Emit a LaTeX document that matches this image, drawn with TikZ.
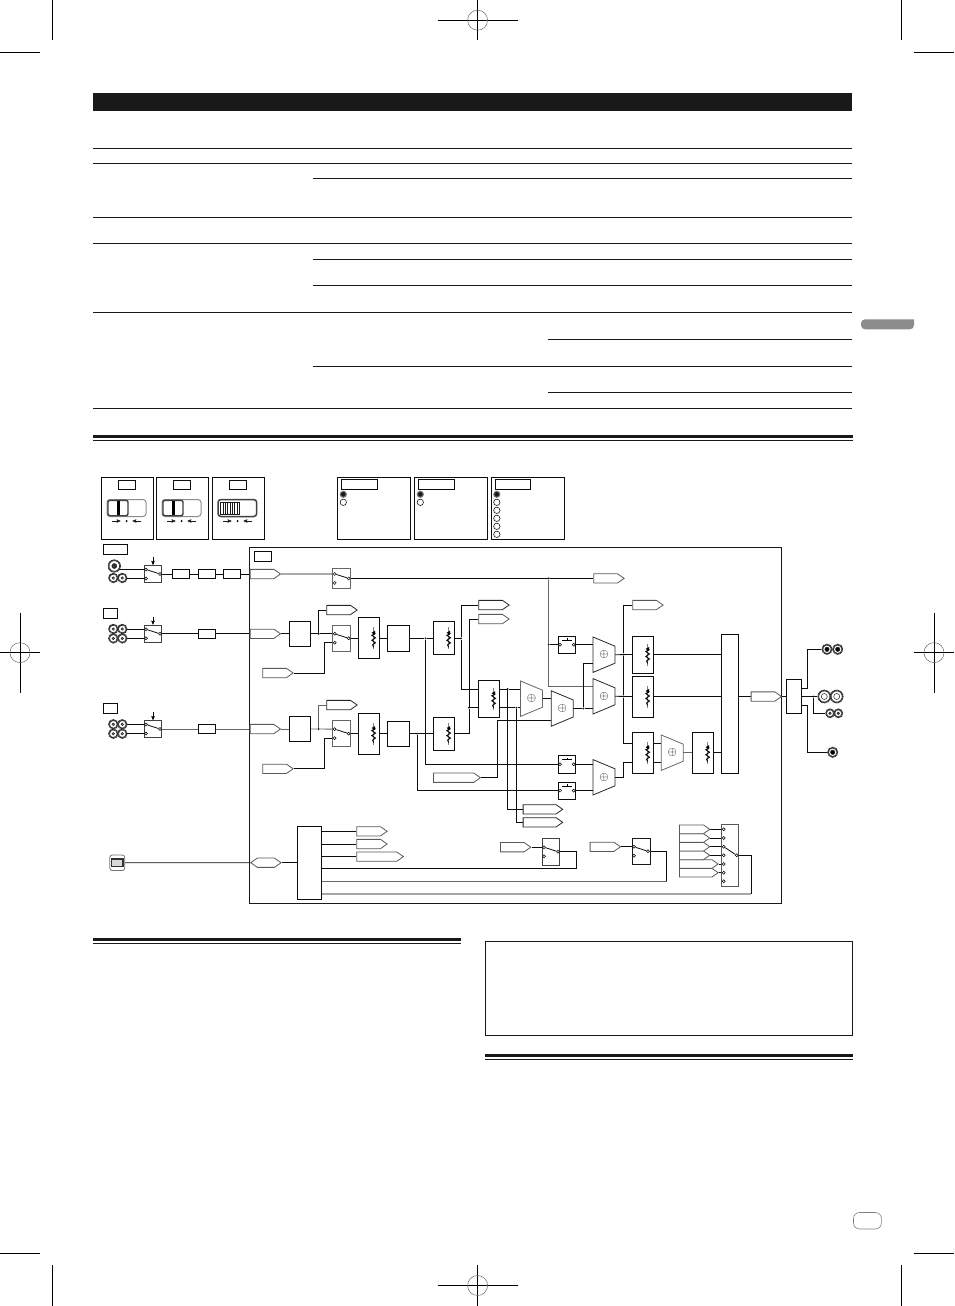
\documentclass[tikz,border=0pt]{standalone}
\usepackage{xcolor}
\usepackage{tikz}
\usetikzlibrary{positioning}
\usetikzlibrary{calc,arrows,backgrounds,shapes.symbols}
\tikzset{
  wire_k/.style = {draw=black!95, line width=.8pt},
  wire_g/.style = {draw=black!60, line width=.9pt},
  rule_t/.style = {draw=black!90, line width=.9pt},
  crop_t/.style = {draw=black, line width=.6pt},
  blk_n/.style = {draw=black!95, fill=white, line width=.8pt, inner sep=0pt},
  blk_s/.style = {blk_n, minimum width=17.4pt, minimum height=9.4pt},% small box in a row
  lab_n/.style = {blk_n, minimum height=9.6pt},% empty caption box
  pan_n/.style = {blk_n, anchor=north west, minimum height=62pt},% legend panel
  sw_n/.style = {blk_n, draw=black!70},
  pin_n/.style = {circle, draw=black, fill=white, line width=.5pt, inner sep=0pt,
    minimum size=3pt},
  jn_n/.style = {circle, fill=black, inner sep=0pt, minimum size=2pt},
  vol_n/.style = {blk_n, minimum width=21.4pt},% fader box
  mix_n/.style = {inner sep=0pt, minimum width=21.6pt, minimum height=35pt,
    font=\fontsize{13}{13}\selectfont},
  tag_n/.style = {signal, signal to=east, signal pointer angle=70, draw=black!85,
    fill=white, line width=.8pt, inner sep=0pt, anchor=west, minimum height=9.3pt,
    minimum width=30.4pt},
  tag_g/.style = {tag_n, draw=black!65},
  jack_o/.style = {circle, draw=black!80, fill=white, line width=1.7pt,
    dash pattern=on 1pt off .4pt, inner sep=0pt},
  jack_i/.style = {circle, draw=black!85, line width=.5pt, inner sep=0pt},
  rad_e/.style = {circle, draw=black!90, fill=white, line width=.6pt, inner sep=0pt,
    minimum size=6.4pt},
  rad_f/.style = {circle, draw=black!55, fill=black!90, line width=1.1pt, inner sep=0pt,
    minimum size=6pt},
  vr_sym/.pic = {
    \draw[black!50, line width=.7pt] (4.6,-11) -- (4.6,11);
    \draw[black, line width=.9pt] (6.5,-5) -- (2.8,-3) -- (6.5,-.5) -- (2.8,2)
      -- (6.5,4.5) -- (3.6,6.5) -- (4.6,9);
    \fill[black] (2.6,-5.6) -- (6.2,-7.6) -- (5.8,-3.4) -- cycle;
  }
}
\newcommand\regmark[4]{
  \draw[crop_t] (#1-#3,#2) -- (#1+#3,#2);
  \draw[crop_t] (#1,#2-#4) -- (#1,#2+#4);
  \draw[black!60, line width=.5pt] (#1,#2) circle (10);
}
\newcommand\jacknode[6]{
  \node[jack_o, minimum size=#4pt] (#1) at (#2,#3) {};
  \node[jack_i, fill=#5, minimum size=#6pt] (#1_i) at (#1) {};
}
\newcommand\swnode[6][black!75]{
  \node[sw_n, draw=#1, minimum width=#5pt, minimum height=#6pt] (#2) at (#3,#4) {};
  \node[pin_n] (#2_a) at ($(#2)+(-7,-4.5)$) {};
  \node[pin_n] (#2_b) at ($(#2)+(-7,4.5)$) {};
  \node[pin_n] (#2_c) at ($(#2)+(7,0)$) {};
  \draw[wire_k] (#2_a) -- (#2_c);
}
\newcommand\pbnode[3]{
  \node[blk_n, minimum width=17.4pt, minimum height=17.4pt] (#1) at (#2,#3) {};
  \node[pin_n] (#1_a) at ($(#1)+(-7,0)$) {};
  \node[pin_n] (#1_c) at ($(#1)+(6.7,0)$) {};
  \draw[black, line width=.5pt] ($(#1)+(-4.7,-4.7)$) -- ($(#1)+(4.7,-4.7)$);
  \draw[black, line width=.5pt] ($(#1)+(0,-4.7)$) -- ($(#1)+(0,-6.4)$);
}
\newcommand\volnode[4]{
  \node[vol_n, minimum height=#4pt] (#1) at (#2,#3) {};
  \pic at (#1) {vr_sym};
}
\newcommand\mixnode[4][black!85]{
  \node[mix_n] (#2) at (#3,#4) {$\oplus$};
  \draw[draw=#1, line width=.8pt] (#2.north west) -- ($(#2.north east)+(0,9.2)$)
    -- ($(#2.south east)+(0,-9.2)$) -- (#2.south west) -- cycle;
}
\begin{document}
\begin{tikzpicture}[x=1pt,y=-1pt,>=stealth']
\useasboundingbox (0,0) rectangle (954,1306);

% page rules
\fill[black!90] (93,93) rectangle (852,111);
\foreach \y in {148.3,163.3,217.3,243.3,312.3,408}
  \draw[rule_t] (93,\y) -- (852,\y);
\foreach \y in {178.3,259.3,285.3,366}
  \draw[rule_t] (312.7,\y) -- (852,\y);
\foreach \y in {339.3,392.3}
  \draw[rule_t] (548.2,\y) -- (852,\y);
\fill[black!90] (93,435) rectangle (853,438);
\draw[rule_t] (93,440.3) -- (853,440.3);
\fill[black!90] (93,938) rectangle (461,941.3);
\draw[rule_t] (93,943.4) -- (461,943.4);
\draw[rule_t] (485.5,941.5) rectangle (852.8,1035.6);
\fill[black!90] (485,1054.3) rectangle (853,1057.3);
\draw[rule_t] (485,1059.7) -- (853,1059.7);
\fill[black!45, rounded corners=4pt] (914,319.3) -- (861,319.3) -- (861,329.3)
  -- (914,329.3) [sharp corners] -- cycle;
\draw[black!50, line width=.6pt, rounded corners=6pt] (853.5,1212.5) rectangle (881.4,1229);

% crop marks
\regmark{477.6}{20.2}{40}{20.2}
\regmark{477.6}{1285.5}{40}{20.5}
\regmark{20}{652.6}{20}{40}
\regmark{934}{652.6}{20}{40}
\draw[crop_t] (52.3,0) -- (52.3,40);
\draw[crop_t] (901.7,0) -- (901.7,40);
\draw[crop_t] (0,52.3) -- (40,52.3);
\draw[crop_t] (914,52.3) -- (954,52.3);
\draw[crop_t] (52.3,1265) -- (52.3,1306);
\draw[crop_t] (901.7,1265) -- (901.7,1306);
\draw[crop_t] (0,1253) -- (40,1253);
\draw[crop_t] (914,1253) -- (954,1253);

% slider panels
\foreach \n/\x in {a/0,b/55,c/111}{
  \node[pan_n, minimum width=52pt] (pan_\n) at (101+\x,477.3) {};
  \node[lab_n, minimum width=17.4pt] (pan_\n_l) at (127+\x,484.8) {};
  \draw[black!90, line width=.5pt, ->] (112+\x,521) -- (120.5+\x,521);
  \draw[black!90, line width=.5pt, ->] (141+\x,521) -- (132.5+\x,521);
  \fill[black] (126.6+\x,521) circle (1.1);
}
\draw[black!45, line width=1pt, rounded corners=3pt] (107,499.5) rectangle (146,516.5);
\draw[black!45, line width=1pt, rounded corners=3pt] (162,499.5) rectangle (201,516.5);
\draw[black!75, line width=1.5pt, rounded corners=3pt] (218,499.5) rectangle (256.7,516.5);
\foreach \x in {0,55}{
  \draw[black!75, fill=white, line width=1.4pt, rounded corners=2pt] (108+\x,500.3) rectangle (128+\x,515.7);
  \fill[black] (117.2+\x,501) rectangle (120+\x,515);
}
\draw[black!90, line width=.5pt] (220.7,502) rectangle (239,514);
\foreach \k in {1,...,7}
  \draw[black!90, line width=.5pt] (220.7+2.3*\k,502) -- (220.7+2.3*\k,514);

% selector panels
\foreach \n/\x in {d/337.3,e/414.3}{
  \node[pan_n, minimum width=73pt] (pan_\n) at (\x,477.3) {};
  \node[lab_n, minimum width=36.4pt, minimum height=10pt] (pan_\n_l) at (\x+22.2,484.4) {};
  \node[rad_f] (rad_\n_1) at (\x+6,494.3) {};
  \node[rad_e] (rad_\n_2) at (\x+6,502.3) {};
}
\node[pan_n, minimum width=72.4pt] (pan_f) at (491.3,477.3) {};
\node[lab_n, minimum width=35.4pt, minimum height=10pt] (pan_f_l) at (513,484.4) {};
\node[rad_f] (rad_f_1) at (496.8,494.3) {};
\foreach \i/\y in {2/502.3,3/510.3,4/518.3,5/526.3,6/534.3}
  \node[rad_e] (rad_f_\i) at (496.8,\y) {};

% mixer frame
\node[draw=black!90, line width=.8pt, inner sep=0pt, anchor=north west,
  minimum width=532pt, minimum height=356pt] (fr) at (249.3,547.3) {};
\node[lab_n, minimum width=17.4pt, minimum height=10pt] (fr_l) at (263,556.7) {};

% input rows
\node[lab_n, minimum width=24.4pt, minimum height=10.4pt] (lab_p) at (115.5,549.5) {};
\node[lab_n, minimum width=14.4pt, minimum height=10.4pt] (lab_q) at (110.5,613.5) {};
\node[lab_n, minimum width=14.4pt, minimum height=10.4pt] (lab_r) at (110.5,708.5) {};
\jacknode{j_p1}{114.3}{566}{11.5}{black!80}{5}
\jacknode{j_p2}{113.3}{578}{8.6}{black!50}{2.6}
\jacknode{j_p3}{122.3}{578}{8.6}{black!50}{2.6}
\foreach \n/\y in {q/629,r/724.3}{
  \jacknode{j_\n1}{113.3}{\y}{8.6}{black!50}{2.6}
  \jacknode{j_\n2}{122.3}{\y}{8.6}{black!50}{2.6}
  \jacknode{j_\n3}{113.3}{\y+9.4}{8.6}{black!50}{2.6}
  \jacknode{j_\n4}{122.3}{\y+9.4}{8.6}{black!50}{2.6}
}
\swnode{sw_p}{153}{574}{17.4}{17.7}
\swnode{sw_q}{153}{633.8}{17.4}{17.7}
\swnode{sw_r}{153}{729}{17.4}{17.4}
\foreach \n in {p,q,r}{
  \coordinate (ar_\n) at ($(sw_\n.north)+(0,-8)$);
  \draw[black, line width=.5pt, ->] (ar_\n) -- (sw_\n.north);
}
\node[blk_s] (bx_p1) at (181,574) {};
\node[blk_s] (bx_p2) at (207,574) {};
\node[blk_s] (bx_p3) at (232,574) {};
\node[blk_s] (bx_q) at (207,633.8) {};
\node[blk_s] (bx_r) at (207,729) {};
\node[tag_g, anchor=west] (t_p) at (249.7,574) {};
\node[tag_g] (t_q) at (249.7,633.8) {};
\node[tag_g] (t_r) at (249.7,729) {};

% channel blocks
\swnode[black!60]{sw_u}{341.7}{578.4}{18}{20.7}
\swnode[black!60]{sw_v}{341.7}{638.3}{18}{26}
\swnode[black!60]{sw_w}{341.7}{733.6}{18}{26}
\node[blk_n, minimum width=21.4pt, minimum height=25.4pt] (bl_q) at (300,633.8) {};
\node[blk_n, minimum width=21.4pt, minimum height=25.4pt] (bl_r) at (300,729) {};
\node[tag_n] (t_qs) at (326.3,610) {};
\node[tag_n] (t_rs) at (326.3,705) {};
\node[tag_g] (t_ql) at (262.3,673) {};
\node[tag_g] (t_rl) at (262.3,768.8) {};
\node[tag_g] (t_uo) at (593.3,578.4) {};
\volnode{vr_q}{369}{638.3}{41}
\volnode{vr_r}{369}{733.6}{41}
\node[blk_n, minimum width=22.4pt, minimum height=25.4pt] (bl_q2) at (398.5,638.3) {};
\node[blk_n, minimum width=22.4pt, minimum height=25.4pt] (bl_r2) at (398.5,733.6) {};
\volnode{vr_q2}{444}{638.3}{33}
\volnode{vr_r2}{444}{733.6}{33}
\node[tag_n] (t_m1) at (478.3,605) {};
\node[tag_g] (t_m2) at (478.3,619) {};
\volnode{vr_m}{489}{698.8}{37}
\node[tag_g, minimum width=47pt] (t_k) at (433,777.7) {};
\node[tag_n, minimum width=39.6pt] (t_n1) at (522.7,809.3) {};
\node[tag_n, minimum width=39.6pt] (t_n2) at (522.7,822.3) {};

% summing
\mixnode[black!60]{mx_a}{531.5}{698.7}
\mixnode{mx_b}{562.3}{708.5}
\mixnode{mx_c}{604}{696.3}
\mixnode{mx_d}{604}{654.7}
\mixnode{mx_e}{604}{777.3}
\mixnode[black!60]{mx_f}{672.3}{752.7}
\pbnode{pb_a}{567}{644.7}
\pbnode{pb_b}{567}{764.3}
\pbnode{pb_c}{567}{790.6}
\node[tag_g] (t_o) at (632.3,605) {};
\volnode{vr_d}{643}{654.5}{37}
\volnode{vr_c}{643}{696.5}{41}
\volnode{vr_f}{643}{752.7}{41}
\volnode{vr_g}{703}{752.7}{41}
\node[blk_n, minimum width=17.4pt, minimum height=139pt] (bg_m) at (730,703.8) {};
\node[tag_g] (t_x) at (750.7,696.5) {};
\node[blk_n, minimum width=15.4pt, minimum height=34.4pt] (bl_x) at (794,696.5) {};

% output jacks
\jacknode{j_o1}{827}{649.3}{9.4}{black}{4.4}
\jacknode{j_o2}{837.7}{649.3}{9.4}{black}{4.4}
\jacknode{j_o3}{824.3}{696.5}{12}{white}{6}
\jacknode{j_o4}{836.7}{696.5}{12}{white}{6}
\jacknode{j_o5}{830}{713.3}{8}{black!70}{2.6}
\jacknode{j_o6}{838.3}{713.3}{8}{black!70}{2.6}
\jacknode{j_o7}{832.7}{752.3}{9.4}{black}{4.4}

% usb side
\node[draw=black!55, fill=white, line width=.8pt, rounded corners=2.5pt, inner sep=0pt,
  minimum width=15pt, minimum height=15.5pt] (usb) at (117.3,862.8) {};
\node[draw=black!80, fill=black!15, line width=1.2pt, inner sep=0pt,
  minimum width=11.5pt, minimum height=7.8pt] (usb_i) at (117.3,862.8) {};
\node[tag_g, signal to=east and west] (t_u) at (250,862.7) {};
\node[blk_n, minimum width=24.4pt, minimum height=73.4pt] (bl_u) at (309.5,863) {};
\node[tag_g] (t_v1) at (356.3,831.3) {};
\node[tag_g] (t_v2) at (356.3,844) {};
\node[tag_g, minimum width=46.7pt] (t_v3) at (356.3,856.6) {};
\node[tag_g] (t_w1) at (500,847.2) {};
\node[tag_g] (t_w2) at (589.7,846.8) {};
\swnode{sw_x}{551}{851.7}{17.4}{26.4}
\swnode[black!90]{sw_y}{641}{851.3}{18}{26.4}
\node[sw_n, draw=black!65, minimum width=17.4pt, minimum height=61.7pt] (sw_z) at (730,855.2) {};
\foreach \i/\y in {1/829.3,2/838,3/846.7,4/855.3,5/864,6/872.7,7/881.3}
  \node[pin_n] (sw_z_\i) at (723.7,\y) {};
\node[pin_n] (sw_z_c) at (736.7,855.3) {};
\draw[wire_k] (sw_z_3) -- (sw_z_c);
\foreach \i/\y/\w in {6/872.7/38.7,5/864/38.7,4/855.3/30.3,3/846.7/30.3,2/838/30.3,1/829.3/30.3}
  \node[tag_g, minimum width=\w pt, minimum height=8.7pt] (t_z\i) at (679,\y) {};

% connectors go under the boxes
\begin{scope}[on background layer]
\draw[wire_k] (j_p1 |- sw_p_a) -- (sw_p_a);
\draw[wire_k] (j_p3 |- sw_p_b) -- (sw_p_b);
\draw[wire_k] (sw_p_c) -- (bx_p1) -- (bx_p2) -- (bx_p3) -- (t_p.west);
\foreach \n in {q,r}{
  \draw[wire_k] (j_\n2 |- sw_\n_a) -- (sw_\n_a);
  \draw[wire_k] (j_\n4 |- sw_\n_b) -- (sw_\n_b);
}
\draw[wire_k] (sw_q_c) -- (bx_q) -- (t_q.west);
\draw[wire_g] (sw_r_c) -- (bx_r) -- (t_r.west);
\draw[wire_k] (t_p.east) -- (sw_u_a);
\node[jn_n] (jn_u) at (548.7,578.4) {};
\node[jn_n] (jn_u2) at (548.7,644.7) {};
\draw[wire_k] (sw_u_c) -- (jn_u) -- (t_uo.west);
\coordinate (mx_c_a) at (593.3,686.3);
\draw[wire_g] (jn_u) -- (jn_u2) |- (mx_c_a);
\draw[wire_k] (jn_u2) -- (pb_a_a);
% row q
\node[jn_n] (jn_q) at (318.7,633.8) {};
\node[jn_n] (jn_q2) at (425.5,638.3) {};
\node[jn_n] (jn_q3) at (461,638.3) {};
\coordinate (c_v) at (324.7,642.8);
\draw[wire_k] (t_q.east) -- (bl_q.west);
\draw[wire_k] (bl_q.east) -- (jn_q) -- (sw_v_a);
\draw[wire_k] (jn_q) |- (t_qs.west);
\draw[wire_k] (t_ql.east) -| (c_v) -- (sw_v_b);
\draw[wire_k] (sw_v_c) -- (vr_q) -- (bl_q2) -- (jn_q2) -- (vr_q2) -- (jn_q3);
\coordinate (vr_m_a) at (478.3,689);
\coordinate (vr_m_b) at (478.3,707.7);
\draw[wire_k] (jn_q3) |- (t_m1.west);
\draw[wire_k] (jn_q3) |- (vr_m_a);
\draw[wire_k] (jn_q2) |- (pb_b_a);
% row r
\node[jn_n] (jn_r) at (318.7,729) {};
\node[jn_n] (jn_r2) at (417,733.6) {};
\node[jn_n] (jn_m) at (469,707.7) {};
\coordinate (c_w) at (324.7,738.1);
\draw[wire_g] (t_r.east) -- (bl_r.west);
\draw[wire_g] (bl_r.east) -- (jn_r) -- (sw_w_a);
\draw[wire_g] (jn_r) |- (t_rs.west);
\draw[wire_k] (t_rl.east) -| (c_w) -- (sw_w_b);
\draw[wire_k] (sw_w_c) -- (vr_r) -- (bl_r2) -- (jn_r2) -- (vr_r2);
\draw[wire_k] (vr_r2.east) -| (jn_m) -- (vr_m_b);
\draw[wire_k] (jn_m) |- (t_m2.west);
\draw[wire_k] (jn_r2) |- (pb_c_a);
% into the sums
\node[jn_n] (jn_a) at (507.7,689) {};
\node[jn_n] (jn_b) at (516.3,707.7) {};
\node[jn_n] (jn_c) at (583.3,708.5) {};
\coordinate (vr_m_c) at (499.7,689);
\coordinate (vr_m_d) at (499.7,707.7);
\coordinate (c_k) at (497.3,720.7);
\coordinate (mx_d_b) at (593.3,663.6);
\draw[wire_k] (vr_m_c) -- (jn_a) -- (mx_a.west |- jn_a);
\draw[wire_k] (vr_m_d) -- (jn_b) -- (mx_a.west |- jn_b);
\draw[wire_k] (jn_a) |- (t_n1.west);
\draw[wire_k] (jn_b) |- (t_n2.west);
\draw[wire_k] (mx_a.east) -- (mx_b.west |- mx_a);
\draw[wire_k] (t_k.east) -| (c_k) -- (mx_b.west |- c_k);
\draw[wire_k] (mx_b.east) -- (jn_c) -- (mx_c.west |- jn_c);
\draw[wire_k] (jn_c) |- (mx_d_b);
\draw[wire_k] (pb_a_c) -- (mx_d.west |- pb_a_c);
\draw[wire_k] (pb_b_c) -- (mx_e.west |- pb_b_c);
\draw[wire_k] (pb_c_c) -- (mx_e.west |- pb_c_c);
% master side
\node[jn_n] (jn_d) at (623.7,654.6) {};
\node[jn_n] (jn_e) at (623.7,696.4) {};
\coordinate (vr_f_a) at (632.3,743.3);
\coordinate (vr_f_b) at (632.3,762.3);
\coordinate (vr_f_c) at (653.7,743.3);
\coordinate (vr_f_d) at (653.7,762.3);
\draw[wire_k] (mx_d.east) -- (vr_d.west);
\draw[wire_k] (mx_c.east) -- (vr_c.west);
\draw[wire_k] (jn_d) |- (t_o.west);
\draw[wire_k] (jn_d) -- (jn_e) |- (vr_f_a);
\draw[wire_k] (mx_e.east) -| (jn_e |- vr_f_b) -- (vr_f_b);
\draw[wire_k] (vr_f_c) -- (mx_f.west |- vr_f_c);
\draw[wire_k] (vr_f_d) -- (mx_f.west |- vr_f_d);
\draw[wire_g] (mx_f.east) -- (vr_g.west);
\draw[wire_k] (vr_d.east) -- (bg_m.west |- vr_d);
\draw[wire_k] (vr_c.east) -- (bg_m.west |- vr_c);
\draw[wire_k] (vr_g.east) -- (bg_m.west |- vr_g);
\draw[wire_k] (bg_m.east |- t_x) -- (t_x.west);
\draw[wire_k] (t_x.east) -- (bl_x.west);
\node[jn_n] (jn_x) at (813.3,696.5) {};
\coordinate (c_x_t) at (801.7,688.3);
\coordinate (c_x_b) at (801.7,705);
\draw[wire_k] (c_x_t) -- ++(6,0) |- (j_o1.west);
\draw[wire_k] (bl_x.east) -- (j_o3.west);
\draw[wire_k] (jn_x) |- (j_o5.west);
\draw[wire_k] (c_x_b) -- ++(6,0) |- (j_o7.west);
% usb side
\coordinate (c_u1) at (576.7,868.3);
\coordinate (c_u2) at (666.7,881);
\coordinate (c_u3) at (751.3,894);
\draw[wire_k] (usb.east) -- (t_u.west);
\draw[wire_k] (t_u.east) -- (bl_u.west |- t_u.east);
\draw[wire_k] (bl_u.east |- t_v1.west) -- (t_v1.west);
\draw[wire_k] (bl_u.east |- t_v2.west) -- (t_v2.west);
\draw[wire_k] (bl_u.east |- t_v3.west) -- (t_v3.west);
\draw[wire_k] (t_w1.east) -- (sw_x_a);
\draw[wire_k] (t_w2.east) -- (sw_y_a);
\draw[wire_k] (sw_x_c) -| (c_u1);
\draw[wire_k] (c_u1) -- (bl_u.east |- c_u1);
\draw[wire_k] (sw_y_c) -| (c_u2);
\draw[black!60, line width=.8pt] (c_u2) -- (bl_u.east |- c_u2);
\draw[wire_k] (sw_z_c) -| (c_u3);
\draw[black!35, line width=1.3pt] (c_u3) -- (bl_u.east |- c_u3);
\foreach \i in {1,...,6}
  \draw[wire_k] (t_z\i.east) -- (sw_z_\i);
\end{scope}
\end{tikzpicture}
\end{document}
